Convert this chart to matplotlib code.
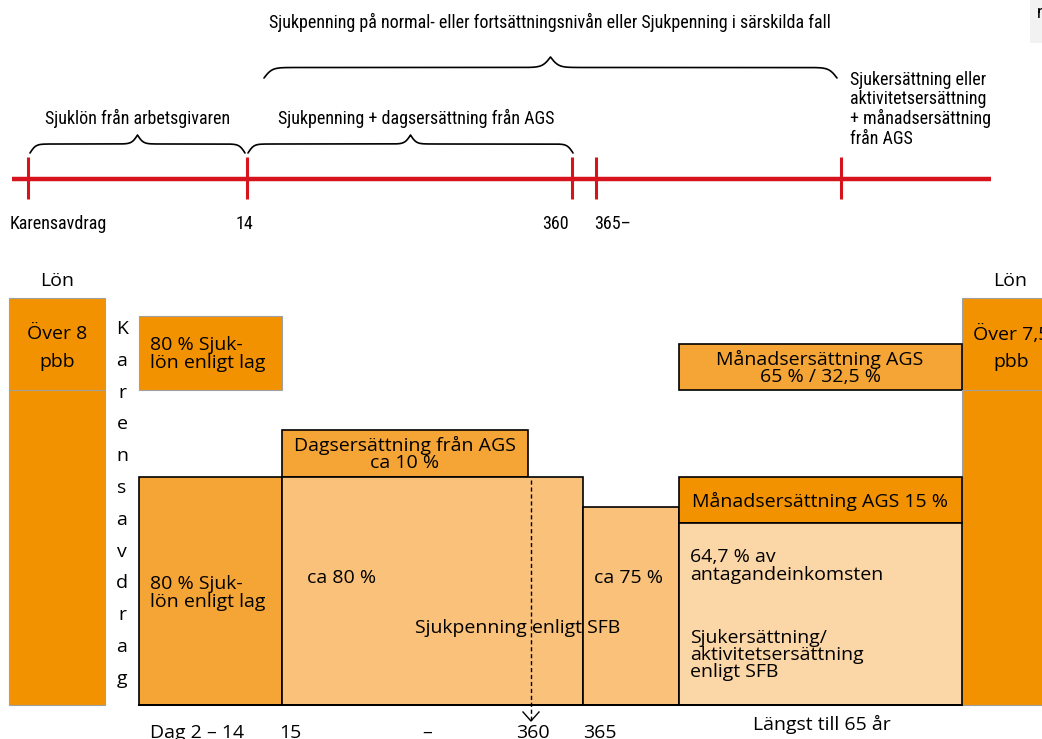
import numpy as np
import matplotlib
matplotlib.use("Agg")
import matplotlib.pyplot as plt
from matplotlib.patches import Rectangle
from matplotlib import font_manager as fm

# ---------------- data ----------------
top_title = "Sjukpenning på normal- eller fortsättningsnivån eller Sjukpenning i särskilda fall"
brace_labels = ["Sjuklön från arbetsgivaren", "Sjukpenning + dagsersättning från AGS"]
right_note = "Sjukersättning eller\naktivitetsersättning\n+ månadsersättning\nfrån AGS"
timeline_labels = ["Karensavdrag", "14", "360", "365–"]

salary_header = "Lön"
salary_caps = ["Över 8\npbb", "Över 7,5\npbb"]
karens_word = "Karensavdrag"

box_texts = {
    "sjuklon_top": "80 % Sjuk-\nlön enligt lag",
    "sjuklon": "80 % Sjuk-\nlön enligt lag",
    "dagers": "Dagsersättning från AGS\nca 10 %",
    "sp80": "ca 80 %",
    "sp75": "ca 75 %",
    "sfb": "Sjukpenning enligt SFB",
    "man65": "Månadsersättning AGS\n65 % / 32,5 %",
    "man15": "Månadsersättning AGS 15 %",
    "se_a": "64,7 % av\nantagandeinkomsten",
    "se_b": "Sjukersättning/\naktivitetsersättning\nenligt SFB",
}
bottom_labels = ["Dag 2 – 14", "15", "–", "360", "365", "Längst till 65 år"]

# ---------------- style ----------------
C_STRONG = "#F39200"
C_MED = "#F5A535"
C_LIGHT = "#F9C17A"
C_PALE = "#FBD6A6"
RED = "#D7141E"


def pick_condensed():
    for fam in ["Liberation Sans Narrow", "Roboto Condensed", "Open Sans Condensed", "DejaVu Sans Condensed"]:
        try:
            fm.findfont(fm.FontProperties(family=fam), fallback_to_default=False)
            return dict(family=[fam, "DejaVu Sans"], fontsize=13)
        except Exception:
            pass
    return dict(family=["Roboto", "DejaVu Sans"], fontsize=10.2)


fig = plt.figure(figsize=(10.42, 7.39), dpi=100)
ax = fig.add_axes([0, 0, 1, 1])
ax.set_xlim(0, 1042)
ax.set_ylim(739, 0)
ax.axis("off")

TOPFONT = dict(color="black", **pick_condensed())
BODY = dict(family=["Open Sans", "DejaVu Sans"], fontsize=14, color="black")


def brace(x0, x1, ybase, height, beta=0.35):
    n = 401
    xs = np.linspace(x0, x1, n)
    half = xs[: n // 2 + 1]
    yh = 1 / (1 + np.exp(-beta * (half - half[0]))) + 1 / (1 + np.exp(-beta * (half - half[-1])))
    y = np.concatenate([yh, yh[-2::-1]])
    y = ybase - height * (y - 0.5)
    ax.plot(xs, y, color="black", lw=1.2, solid_capstyle="round")


# ---------------- top timeline ----------------
ax.text(550, 22, top_title, ha="center", va="center", **TOPFONT)
brace(264, 837, 78, 21, beta=0.25)
brace(30, 245, 153, 18, beta=0.35)
brace(248, 573, 153, 18, beta=0.35)
ax.text(138, 118, brace_labels[0], ha="center", va="center", **TOPFONT)
ax.text(416, 118, brace_labels[1], ha="center", va="center", **TOPFONT)
ax.text(850, 71, right_note, ha="left", va="top", linespacing=1.08, **TOPFONT)

ax.plot([12, 991], [179, 179], color=RED, lw=3.2, solid_capstyle="butt")
for tx in [28, 247, 572, 596, 841]:
    ax.plot([tx, tx], [157, 199], color=RED, lw=2.2, solid_capstyle="butt")
ax.text(10, 224, timeline_labels[0], ha="left", va="center", **TOPFONT)
ax.text(244, 224, timeline_labels[1], ha="center", va="center", **TOPFONT)
ax.text(555, 224, timeline_labels[2], ha="center", va="center", **TOPFONT)
ax.text(594, 224, timeline_labels[3], ha="left", va="center", **TOPFONT)

# top-right fragment
ax.add_patch(Rectangle((1030, 0), 20, 43, facecolor="#F2F2F2", edgecolor="none"))
ax.text(1037, 13, "n", ha="left", va="center", **TOPFONT)


def box(x0, y0, x1, y1, fc, ec="black", lw=1.2, z=2):
    ax.add_patch(Rectangle((x0, y0), x1 - x0, y1 - y0, facecolor=fc, edgecolor=ec, lw=lw, zorder=z))


# ---------------- salary bars ----------------
ax.text(57, 281, salary_header, ha="center", va="center", **BODY)
ax.text(1010, 281, salary_header, ha="center", va="center", **BODY)
box(9, 298, 105, 705, C_STRONG, ec="#A0A0A0", lw=0.8)
ax.plot([9, 105], [390, 390], color="#A0A0A0", lw=0.8, zorder=3)
ax.text(57, 348, salary_caps[0], ha="center", va="center", linespacing=1.65, zorder=4, **BODY)
box(962, 298, 1060, 705, C_STRONG, ec="#A0A0A0", lw=0.8)
ax.plot([962, 1042], [390, 390], color="#A0A0A0", lw=0.8, zorder=3)
ax.text(1011, 348, salary_caps[1], ha="center", va="center", linespacing=1.65, zorder=4, **BODY)

# vertical karensavdrag
for i, ch in enumerate(karens_word):
    ax.text(122, 329 + i * 31.8, ch.upper() if i == 0 else ch, ha="center", va="center", **BODY)

# ---------------- boxes ----------------
box(139, 316, 282, 390, C_STRONG, ec="#A0A0A0", lw=0.8)
ax.text(150, 354, box_texts["sjuklon_top"], ha="left", va="center", linespacing=0.95, zorder=5, **BODY)

box(139, 477, 282, 705, C_MED)
ax.text(150, 593, box_texts["sjuklon"], ha="left", va="center", linespacing=0.95, zorder=5, **BODY)

box(282, 430, 528, 477, C_MED)
ax.text(405, 454, box_texts["dagers"], ha="center", va="center", linespacing=0.95, zorder=5, **BODY)

box(282, 477, 583, 705, C_LIGHT)
ax.text(307, 578, box_texts["sp80"], ha="left", va="center", zorder=5, **BODY)
box(583, 507, 679, 705, C_LIGHT)
ax.text(594, 578, box_texts["sp75"], ha="left", va="center", zorder=5, **BODY)
ax.text(518, 628, box_texts["sfb"], ha="center", va="center", zorder=6, **BODY)

box(679, 344, 962, 390, C_MED)
ax.text(820, 368, box_texts["man65"], ha="center", va="center", linespacing=0.9, zorder=5, **BODY)

box(679, 477, 962, 523, C_STRONG)
ax.text(820, 501, box_texts["man15"], ha="center", va="center", zorder=5, **BODY)

box(679, 523, 962, 705, C_PALE)
ax.text(690, 566, box_texts["se_a"], ha="left", va="center", linespacing=0.95, zorder=5, **BODY)
ax.text(690, 655, box_texts["se_b"], ha="left", va="center", linespacing=0.95, zorder=5, **BODY)

ax.plot([139, 962], [705, 705], color="black", lw=1.4, zorder=6)

# dashed day-360 marker
ax.plot([531, 531], [480, 721], color="black", lw=1.0, ls=(0, (3, 2)), zorder=7)
ax.plot([523, 531, 539], [712, 721, 712], color="black", lw=1.0, zorder=7)

# ---------------- bottom labels ----------------
ax.text(150, 733, bottom_labels[0], ha="left", va="center", **BODY)
ax.text(290, 733, bottom_labels[1], ha="center", va="center", **BODY)
ax.text(427, 733, bottom_labels[2], ha="center", va="center", **BODY)
ax.text(533, 733, bottom_labels[3], ha="center", va="center", **BODY)
ax.text(600, 733, bottom_labels[4], ha="center", va="center", **BODY)
ax.text(822, 724, bottom_labels[5], ha="center", va="center", **BODY)

fig.savefig("out.png", dpi=100)
